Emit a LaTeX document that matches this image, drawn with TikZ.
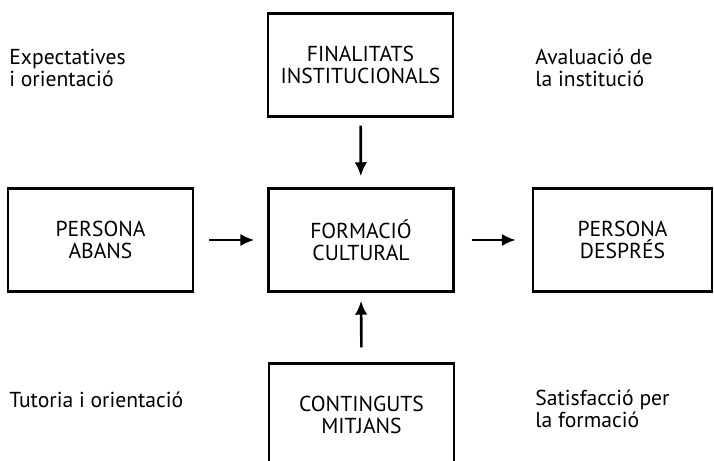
\documentclass[tikz,border=0pt]{standalone}
\usepackage{fontspec}
\setmainfont{PT Sans}
\usetikzlibrary{arrows.meta}

\begin{document}
\begin{tikzpicture}[
	box/.style={draw, line width=1.4pt, minimum width=3.7cm, minimum height=2.06cm, align=center, font=\fontsize{12.3}{12.7}\selectfont},
	note/.style={inner sep=0pt, anchor=west, align=left, font=\fontsize{12.3}{12.7}\selectfont},
	arr/.style={line width=1.5pt, -{Latex[length=0.28cm, width=0.25cm]}}]
	\clip (0,0) rectangle (14.28,9.22);
	% boxes
	\node[box] (fin) at (7.21,7.92) {FINALITATS\\INSTITUCIONALS};
	\node[box] (abans) at (2.01,4.42) {PERSONA\\ABANS};
	\node[box] (form) at (7.22,4.42) {FORMACIÓ\\CULTURAL};
	\node[box, minimum width=3.58cm] (despres) at (12.45,4.42) {PERSONA\\DESPRÉS};
	\node[box] (contin) at (7.23,0.92) {CONTINGUTS\\MITJANS};
	% side notes
	\node[note] (expect) at (0.18,7.86) {Expectatives\\i orientació};
	\node[note] (aval) at (10.7,7.86) {Avaluació de\\la institució};
	\node[note] (tutor) at (0.18,1.22) {Tutoria i orientació};
	\node[note] (satisf) at (10.7,1.04) {Satisfacció per\\la formació};
	% arrows
	\draw[arr, shorten <=0.16cm, shorten >=0.22cm] (fin) -- (form);
	\draw[arr, shorten <=0.3cm, shorten >=0.26cm] (abans) -- (form);
	\draw[arr, shorten <=0.34cm, shorten >=0.32cm] (form) -- (despres);
	\draw[arr, shorten <=0.3cm, shorten >=0.16cm] (contin.north) -- (form.south);
\end{tikzpicture}
\end{document}
